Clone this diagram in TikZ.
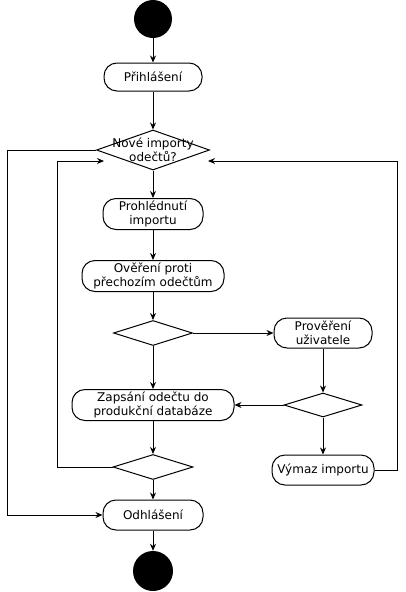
\documentclass[tikz,border=0pt]{standalone}
\usepackage{fontspec}
\setmainfont{DejaVu Sans}
\usetikzlibrary{shapes.geometric,arrows.meta}
\begin{document}
\begin{tikzpicture}[x=1pt,y=-1pt,
  every node/.style={font=\fontsize{12pt}{14pt}\selectfont},
  act/.style={draw,line width=1pt,rounded corners=13pt,align=center,inner sep=0pt},
  dec/.style={draw,line width=1pt,diamond,inner sep=0pt},
  term/.style={circle,fill=black,inner sep=0pt},
  conn/.style={line width=1pt,-{Stealth[length=7pt,width=6pt]}}]
\useasboundingbox (0,0) rectangle (405,592);
\node[term,minimum size=38pt] (start) at (153,19) {};
\node[act,minimum width=98pt,minimum height=28pt] (login) at (153,77) {Přihlášení};
\node[dec,minimum width=113pt,minimum height=40pt,label={[align=center,font=\fontsize{12pt}{14pt}\selectfont]center:Nové importy\\odečtů?}] (d1) at (153,150) {};
\node[act,minimum width=100pt,minimum height=31pt] (prohl) at (153,214) {Prohlédnutí\\importu};
\node[act,minimum width=142pt,minimum height=31pt] (over) at (153,276) {Ověření proti\\přechozím odečtům};
\node[dec,minimum width=79pt,minimum height=25pt] (d2) at (153,333) {};
\node[act,minimum width=98pt,minimum height=30pt] (prov) at (323,333) {Prověření\\uživatele};
\node[act,minimum width=162pt,minimum height=31pt] (zap) at (153,405) {Zapsání odečtu do\\produkční databáze};
\node[dec,minimum width=78pt,minimum height=24pt] (d3) at (323,405) {};
\node[dec,minimum width=80pt,minimum height=25pt] (d4) at (153,467) {};
\node[act,minimum width=102pt,minimum height=30pt] (vymaz) at (323,470) {Výmaz importu};
\node[act,minimum width=100pt,minimum height=30pt] (odhl) at (153,515) {Odhlášení};
\node[term,minimum size=40pt] (end) at (153,571) {};
\coordinate (lin) at (104,161);
\coordinate (rin) at (208,161);
\draw[conn] (start) -- (login);
\draw[conn] (login) -- (d1);
\draw[conn] (d1) -- (prohl);
\draw[conn] (prohl) -- (over);
\draw[conn] (over) -- (d2);
\draw[conn] (d2.east) -- (prov.west);
\draw[conn] (d2.south) -- (zap.north);
\draw[conn] (prov.south) -- (d3.north);
\draw[conn] (d3.west) -- (zap.east);
\draw[conn] (d3.south) -- (vymaz.north);
\draw[conn] (zap.south) -- (d4.north);
\draw[conn] (d4.south) -- (odhl.north);
\draw[conn] (odhl) -- (end);
\draw[conn] (d1.west) -- (7,150) |- (odhl.west);
\draw[conn] (d4.west) -- (57,467) |- (lin);
\draw[conn] (vymaz.east) -- (397,470) |- (rin);
\end{tikzpicture}
\end{document}
